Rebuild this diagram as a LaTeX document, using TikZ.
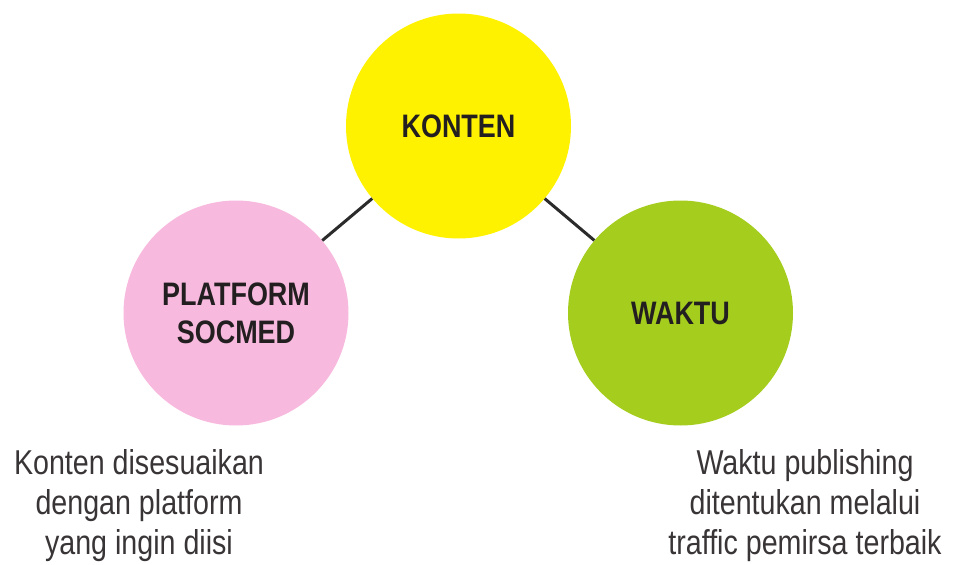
\documentclass[tikz,border=0pt]{standalone}
\usepackage{fontspec}
\setmainfont{Liberation Sans}[FakeStretch=0.83]
\definecolor{cyel}{HTML}{FFF200}
\definecolor{cpink}{HTML}{F8B9DE}
\definecolor{cgreen}{HTML}{A5CD1E}
\definecolor{ctext}{HTML}{231F20}
\definecolor{cline}{HTML}{2B2B2B}
\tikzset{
  bubble/.style={circle, minimum size=225pt, inner sep=0pt, align=center,
    font=\fontsize{32.5pt}{38pt}\selectfont\bfseries, text=ctext},
  link/.style={draw=cline, line width=3pt},
  caption/.style={align=center, font=\fontsize{34.5pt}{40pt}\selectfont, text=ctext!90!white}
}
\begin{document}
\begin{tikzpicture}[x=1pt,y=-1pt]
\useasboundingbox (0,0) rectangle (956,565);
\node[bubble, fill=cyel] (k) at (458.5,126) {KONTEN};
\node[bubble, fill=cpink] (p) at (236,313) {PLATFORM\\SOCMED};
\node[bubble, fill=cgreen] (w) at (680.5,313) {WAKTU};
\draw[link] (k) -- (p);
\draw[link] (k) -- (w);
\node[caption] (lt) at (139,506) {Konten disesuaikan\\dengan platform\\yang ingin diisi};
\node[caption] (rt) at (805,506) {Waktu publishing\\ditentukan melalui\\traffic pemirsa terbaik};
\end{tikzpicture}
\end{document}
